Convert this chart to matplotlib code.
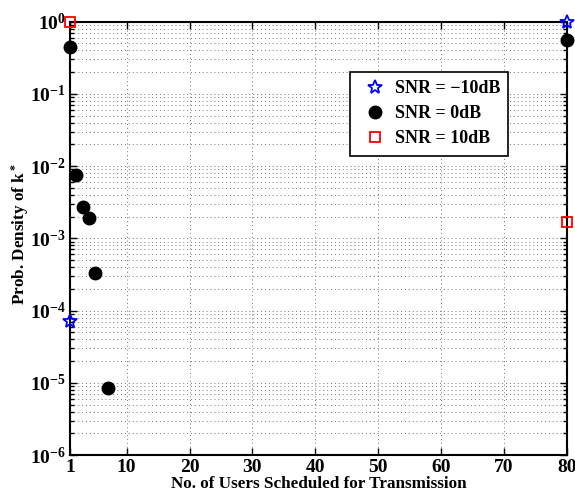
import matplotlib
matplotlib.use("Agg")
import matplotlib.pyplot as plt
from matplotlib.ticker import LogLocator, NullFormatter, LogFormatterMathtext

plt.rcParams['font.family'] = ['Liberation Serif', 'DejaVu Serif']
plt.rcParams['font.weight'] = 'bold'
plt.rcParams['mathtext.fontset'] = 'custom'
plt.rcParams['mathtext.rm'] = 'Liberation Serif:bold'
plt.rcParams['mathtext.it'] = 'Liberation Serif:italic:bold'
plt.rcParams['mathtext.bf'] = 'Liberation Serif:bold'
plt.rcParams['axes.unicode_minus'] = True

# data
k_m10 = [1, 80]
p_m10 = [7.2e-5, 1.0]
k_0 = [1, 2, 3, 4, 5, 7, 80]
p_0 = [0.44, 7.5e-3, 2.7e-3, 1.9e-3, 3.3e-4, 8.5e-6, 0.56]
k_10 = [1, 80]
p_10 = [1.0, 1.7e-3]
xticks = [1, 10, 20, 30, 40, 50, 60, 70, 80]
labels = ['SNR = \u221210dB', 'SNR = 0dB', 'SNR = 10dB']

fig = plt.figure(figsize=(5.75, 4.97), dpi=100)
ax = fig.add_axes([0.1217, 0.0845, 0.8643, 0.8722])

ax.plot(k_m10, p_m10, linestyle='none', marker='*', color='blue', markersize=10,
        markerfacecolor='none', markeredgewidth=1.3, clip_on=False, zorder=5, label=labels[0])
ax.plot(k_0, p_0, linestyle='none', marker='o', color='black', markersize=9,
        clip_on=False, zorder=5, label=labels[1])
ax.plot(k_10, p_10, linestyle='none', marker='s', color='red', markersize=6.5,
        markerfacecolor='none', markeredgewidth=1.3, clip_on=False, zorder=5, label=labels[2])

ax.set_yscale('log')
ax.set_xlim(1, 80)
ax.set_ylim(1e-6, 1)
ax.set_xticks(xticks)
ax.set_xticklabels([str(t) for t in xticks])
ax.yaxis.set_major_locator(LogLocator(base=10, numticks=10))
ax.yaxis.set_major_formatter(LogFormatterMathtext())
ax.yaxis.set_minor_locator(LogLocator(base=10, subs=range(2, 10), numticks=20))
ax.yaxis.set_minor_formatter(NullFormatter())

gridkw = dict(linestyle=(0, (1, 3)), color='#777777', linewidth=0.7)
ax.grid(True, which='major', **gridkw)
ax.grid(True, which='minor', axis='y', **gridkw)
ax.tick_params(which='both', direction='in', top=True, right=True, labelsize=14, width=1)
ax.tick_params(which='major', length=5, pad=3)
ax.tick_params(which='minor', length=3)
for s in ax.spines.values():
    s.set_linewidth(1.5)

ax.set_xlabel('No. of Users Scheduled for Transmission', fontsize=12.3, fontweight='bold', labelpad=0)
ax.set_ylabel(r'Prob. Density of k$^*$', fontsize=12.3, fontweight='bold')
ax.yaxis.set_label_coords(-0.078, 0.51)

leg = ax.legend(loc='upper left', bbox_to_anchor=(0.563, 0.8835), fontsize=13, frameon=True,
                fancybox=False, edgecolor='black', framealpha=1, borderpad=0.45,
                handlelength=1.9, handletextpad=0.15, labelspacing=0.45, borderaxespad=0)
leg.get_frame().set_linewidth(1.2)

fig.savefig('out.png', dpi=100)
